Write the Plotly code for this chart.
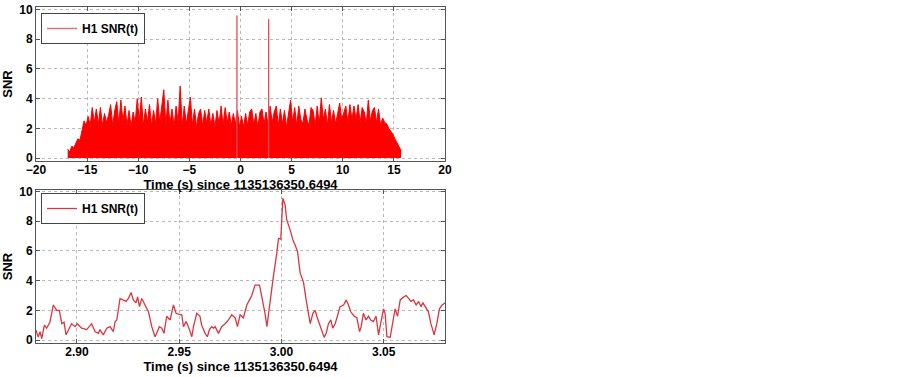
import plotly.graph_objects as go

# ---------------- data ----------------
# Top panel: SNR envelope over the full segment (0.2 s sampling)
top_t0 = -16.9
top_dt = 0.2
top_snr = [
    0.6, 0.4, 0.8, 0.7, 1.0,
    1.3, 1.2, 1.8, 2.5, 2.2,
    2.8, 2.2, 3.4, 2.4, 3.3,
    2.3, 3.4, 2.2, 3.0, 2.4,
    2.9, 3.6, 2.2, 3.2, 3.8,
    2.3, 3.9, 2.5, 3.5, 2.2,
    3.2, 2.1, 3.1, 2.4, 4.0,
    2.5, 4.1, 2.2, 3.3, 2.4,
    3.6, 2.2, 3.2, 2.3, 4.0,
    2.4, 3.5, 4.6, 2.2, 3.9,
    2.3, 3.3, 2.1, 3.5, 2.4,
    4.85, 2.2, 3.5, 2.3, 3.1,
    4.1, 2.2, 3.3, 2.1, 3.0,
    3.3, 2.2, 3.2, 2.4, 3.3,
    2.2, 3.0, 2.1, 3.2, 2.3,
    3.5, 2.2, 3.4, 2.4, 3.1,
    2.2, 3.0, 2.3, 3.2, 2.1,
    2.8, 2.1, 3.0, 2.2, 3.1,
    3.3, 2.2, 3.0, 2.1, 3.1,
    3.3, 2.3, 3.1, 2.2, 3.5,
    2.4, 3.1, 3.5, 2.2, 3.3,
    2.3, 3.2, 2.1, 3.0, 3.9,
    2.4, 3.4, 2.2, 3.5, 2.6,
    2.3, 3.3, 2.6, 2.2, 3.4,
    3.2, 2.2, 3.5, 2.3, 4.05,
    2.6, 3.3, 2.2, 3.6, 2.4,
    3.2, 2.3, 3.0, 3.7, 2.6,
    3.1, 3.5, 2.4, 3.6, 2.6,
    3.5, 2.6, 3.6, 2.4, 3.4,
    3.1, 2.3, 3.9, 2.5, 3.2,
    3.4, 2.4, 3.3, 2.2, 2.7,
    2.4, 2.3, 2.0, 1.8, 1.6,
    1.3, 1.0, 0.8, 0.5,
]
top_t = [round(top_t0 + i * top_dt, 3) for i in range(len(top_snr))]

# Two narrow high-SNR spikes in the top panel
spike_t = [-0.35, 2.75]
spike_snr = [9.6, 9.35]

# Bottom panel: zoom around the trigger
zoom_t = [
    2.8800, 2.8811, 2.8820, 2.8828, 2.8841, 2.8852, 2.8868, 2.8885, 2.8901, 2.8914,
    2.8926, 2.8937, 2.8947, 2.8958, 2.8974, 2.8991, 2.9002, 2.9023, 2.9048, 2.9072,
    2.9089, 2.9105, 2.9113, 2.9129, 2.9146, 2.9162, 2.9178, 2.9187, 2.9195, 2.9211,
    2.9227, 2.9240, 2.9252, 2.9265, 2.9276, 2.9289, 2.9297, 2.9306, 2.9317, 2.9328,
    2.9341, 2.9350, 2.9366, 2.9382, 2.9390, 2.9403, 2.9415, 2.9426, 2.9439, 2.9456,
    2.9472, 2.9485, 2.9496, 2.9513, 2.9521, 2.9534, 2.9545, 2.9562, 2.9570, 2.9586,
    2.9602, 2.9610, 2.9627, 2.9638, 2.9648, 2.9659, 2.9668, 2.9676, 2.9692, 2.9708,
    2.9725, 2.9741, 2.9757, 2.9774, 2.9785, 2.9798, 2.9814, 2.9831, 2.9844, 2.9855,
    2.9871, 2.9893, 2.9904, 2.9920, 2.9929, 2.9945, 2.9961, 2.9977, 2.9986, 2.9997,
    3.0007, 3.0018, 3.0026, 3.0043, 3.0056, 3.0067, 3.0079, 3.0092, 3.0108, 3.0121,
    3.0132, 3.0141, 3.0154, 3.0165, 3.0173, 3.0186, 3.0198, 3.0209, 3.0219, 3.0230,
    3.0242, 3.0251, 3.0263, 3.0274, 3.0287, 3.0304, 3.0317, 3.0328, 3.0339, 3.0356,
    3.0369, 3.0382, 3.0390, 3.0401, 3.0414, 3.0426, 3.0437, 3.0450, 3.0463, 3.0475,
    3.0486, 3.0499, 3.0507, 3.0516, 3.0532, 3.0545, 3.0556, 3.0568, 3.0581, 3.0597,
    3.0610, 3.0622, 3.0633, 3.0646, 3.0659, 3.0671, 3.0682, 3.0692, 3.0703, 3.0719,
    3.0731, 3.0747, 3.0760, 3.0773, 3.0786, 3.0801,
]
zoom_snr = [
    0.67, 0.2, 0.56, 0.1, 1.0, 0.8, 1.2, 2.36, 2.0, 2.0,
    1.1, 1.2, 0.35, 0.7, 1.1, 0.9, 1.1, 0.8, 0.7, 1.1,
    0.56, 0.45, 0.7, 0.35, 0.8, 0.9, 0.56, 1.24, 1.35, 2.8,
    2.7, 2.6, 2.8, 3.2, 2.7, 2.5, 2.9, 2.25, 2.8, 2.5,
    2.25, 1.9, 0.9, 0.22, 0.45, 0.9, 0.8, 0.45, 1.6, 1.35,
    2.36, 1.8, 1.75, 1.7, 0.9, 1.24, 0.9, 0.22, 0.9, 1.8,
    1.6, 1.0, 0.45, 0.22, 0.7, 0.9, 0.8, 0.9, 0.45, 0.9,
    1.1, 1.35, 1.7, 1.5, 0.9, 1.7, 1.5, 2.36, 2.7, 3.0,
    3.7, 3.7, 2.9, 1.8, 0.9, 2.7, 4.3, 5.8, 6.85, 6.8,
    9.55, 9.1, 8.1, 7.4, 6.75, 6.4, 5.95, 4.5, 3.9, 2.7,
    1.8, 1.1, 1.8, 2.0, 1.6, 1.1, 0.7, 0.18, 0.45, 1.1,
    1.35, 0.8, 1.1, 1.6, 2.25, 2.36, 2.7, 2.36, 1.9, 1.6,
    1.5, 0.56, 0.9, 1.8, 1.35, 1.6, 1.35, 1.24, 1.6, 0.35,
    1.1, 2.1, 1.8, 0.22, 0.18, 1.35, 2.1, 1.6, 2.7, 2.9,
    3.0, 2.8, 2.6, 2.7, 2.36, 2.6, 2.25, 2.5, 2.25, 1.9,
    1.1, 0.35, 1.1, 2.1, 2.36, 2.5,
]

top_xticks = [-20, -15, -10, -5, 0, 5, 10, 15, 20]
zoom_xticks = [2.90, 2.95, 3.00, 3.05]
zoom_xticklabels = ["2.90", "2.95", "3.00", "3.05"]
y_ticks = [0, 2, 4, 6, 8, 10]
x_title = "Time (s) since 1135136350.6494"
legend_label = "H1 SNR(t)"

# ---------------- figure ----------------
FONT = "Liberation Sans, Arial, sans-serif"
RED_FILL = "#ff0000"
LINE_RED = "#d9363e"
LEG_RED = "#e0707a"
FRAME = "#555555"
GRID = "#b8b8b8"

fig = go.Figure()

fig.add_trace(go.Scatter(
    x=top_t, y=top_snr, mode="lines", fill="tozeroy",
    fillcolor=RED_FILL, line=dict(color=RED_FILL, width=1),
    showlegend=False, xaxis="x", yaxis="y", hoverinfo="skip"))

sx, sy = [], []
for t, v in zip(spike_t, spike_snr):
    sx += [t, t, None]
    sy += [0, v, None]
fig.add_trace(go.Scatter(
    x=sx, y=sy, mode="lines", line=dict(color="#e34a55", width=1.3),
    showlegend=False, xaxis="x", yaxis="y", hoverinfo="skip"))

# legend-only entry for top panel
fig.add_trace(go.Scatter(
    x=[None], y=[None], mode="lines", name=legend_label,
    line=dict(color=LEG_RED, width=1.5), xaxis="x", yaxis="y", legend="legend"))

fig.add_trace(go.Scatter(
    x=zoom_t, y=zoom_snr, mode="lines", name=legend_label,
    line=dict(color=LINE_RED, width=1.3), xaxis="x2", yaxis="y2", legend="legend2"))

X0, X1 = 36 / 903, 445 / 903
axis_common = dict(
    showline=True, linecolor=FRAME, linewidth=1, mirror="ticks",
    ticks="inside", ticklen=4, tickcolor=FRAME,
    showgrid=True, gridcolor=GRID, griddash="dot", gridwidth=1,
    zeroline=False, automargin=False,
    tickfont=dict(family=FONT, size=12, color="#000000", weight="bold"),
)
title_font = dict(family=FONT, size=13, color="#000000", weight="bold")

leg_common = dict(
    xanchor="left", yanchor="top",
    bordercolor="#444444", borderwidth=1, bgcolor="white",
    font=dict(family=FONT, size=12, color="#000", weight="bold"),
    itemwidth=30, tracegroupgap=0,
)

fig.update_layout(
    width=903, height=377,
    margin=dict(l=0, r=0, t=0, b=0, autoexpand=False),
    paper_bgcolor="white", plot_bgcolor="white",
    font=dict(family=FONT, size=13, color="#000"),
    xaxis=dict(domain=[X0, X1], range=[-20, 20], tickvals=top_xticks,
               anchor="y", ticklabelstandoff=-2,
               title=dict(text=x_title, font=title_font, standoff=0),
               **axis_common),
    yaxis=dict(domain=[216 / 377, 370 / 377], range=[-0.2, 10.17], tickvals=y_ticks,
               anchor="x",
               title=dict(text="SNR", font=title_font, standoff=5),
               **axis_common),
    xaxis2=dict(domain=[X0, X1], range=[2.88, 3.08], tickvals=zoom_xticks,
                ticktext=zoom_xticklabels, anchor="y2", ticklabelstandoff=-2,
                title=dict(text=x_title, font=title_font, standoff=0),
                **axis_common),
    yaxis2=dict(domain=[34 / 377, 187 / 377], range=[-0.2, 10.1], tickvals=y_ticks,
                anchor="x2",
                title=dict(text="SNR", font=title_font, standoff=5),
                **axis_common),
    legend=dict(x=41 / 903, y=1 - 13 / 377, **leg_common),
    legend2=dict(x=41 / 903, y=1 - 193 / 377, **leg_common),
)

fig.write_html("out.html",
               config={"displayModeBar": False},
               post_script="document.body.style.margin='0';document.body.style.overflow='hidden';")
